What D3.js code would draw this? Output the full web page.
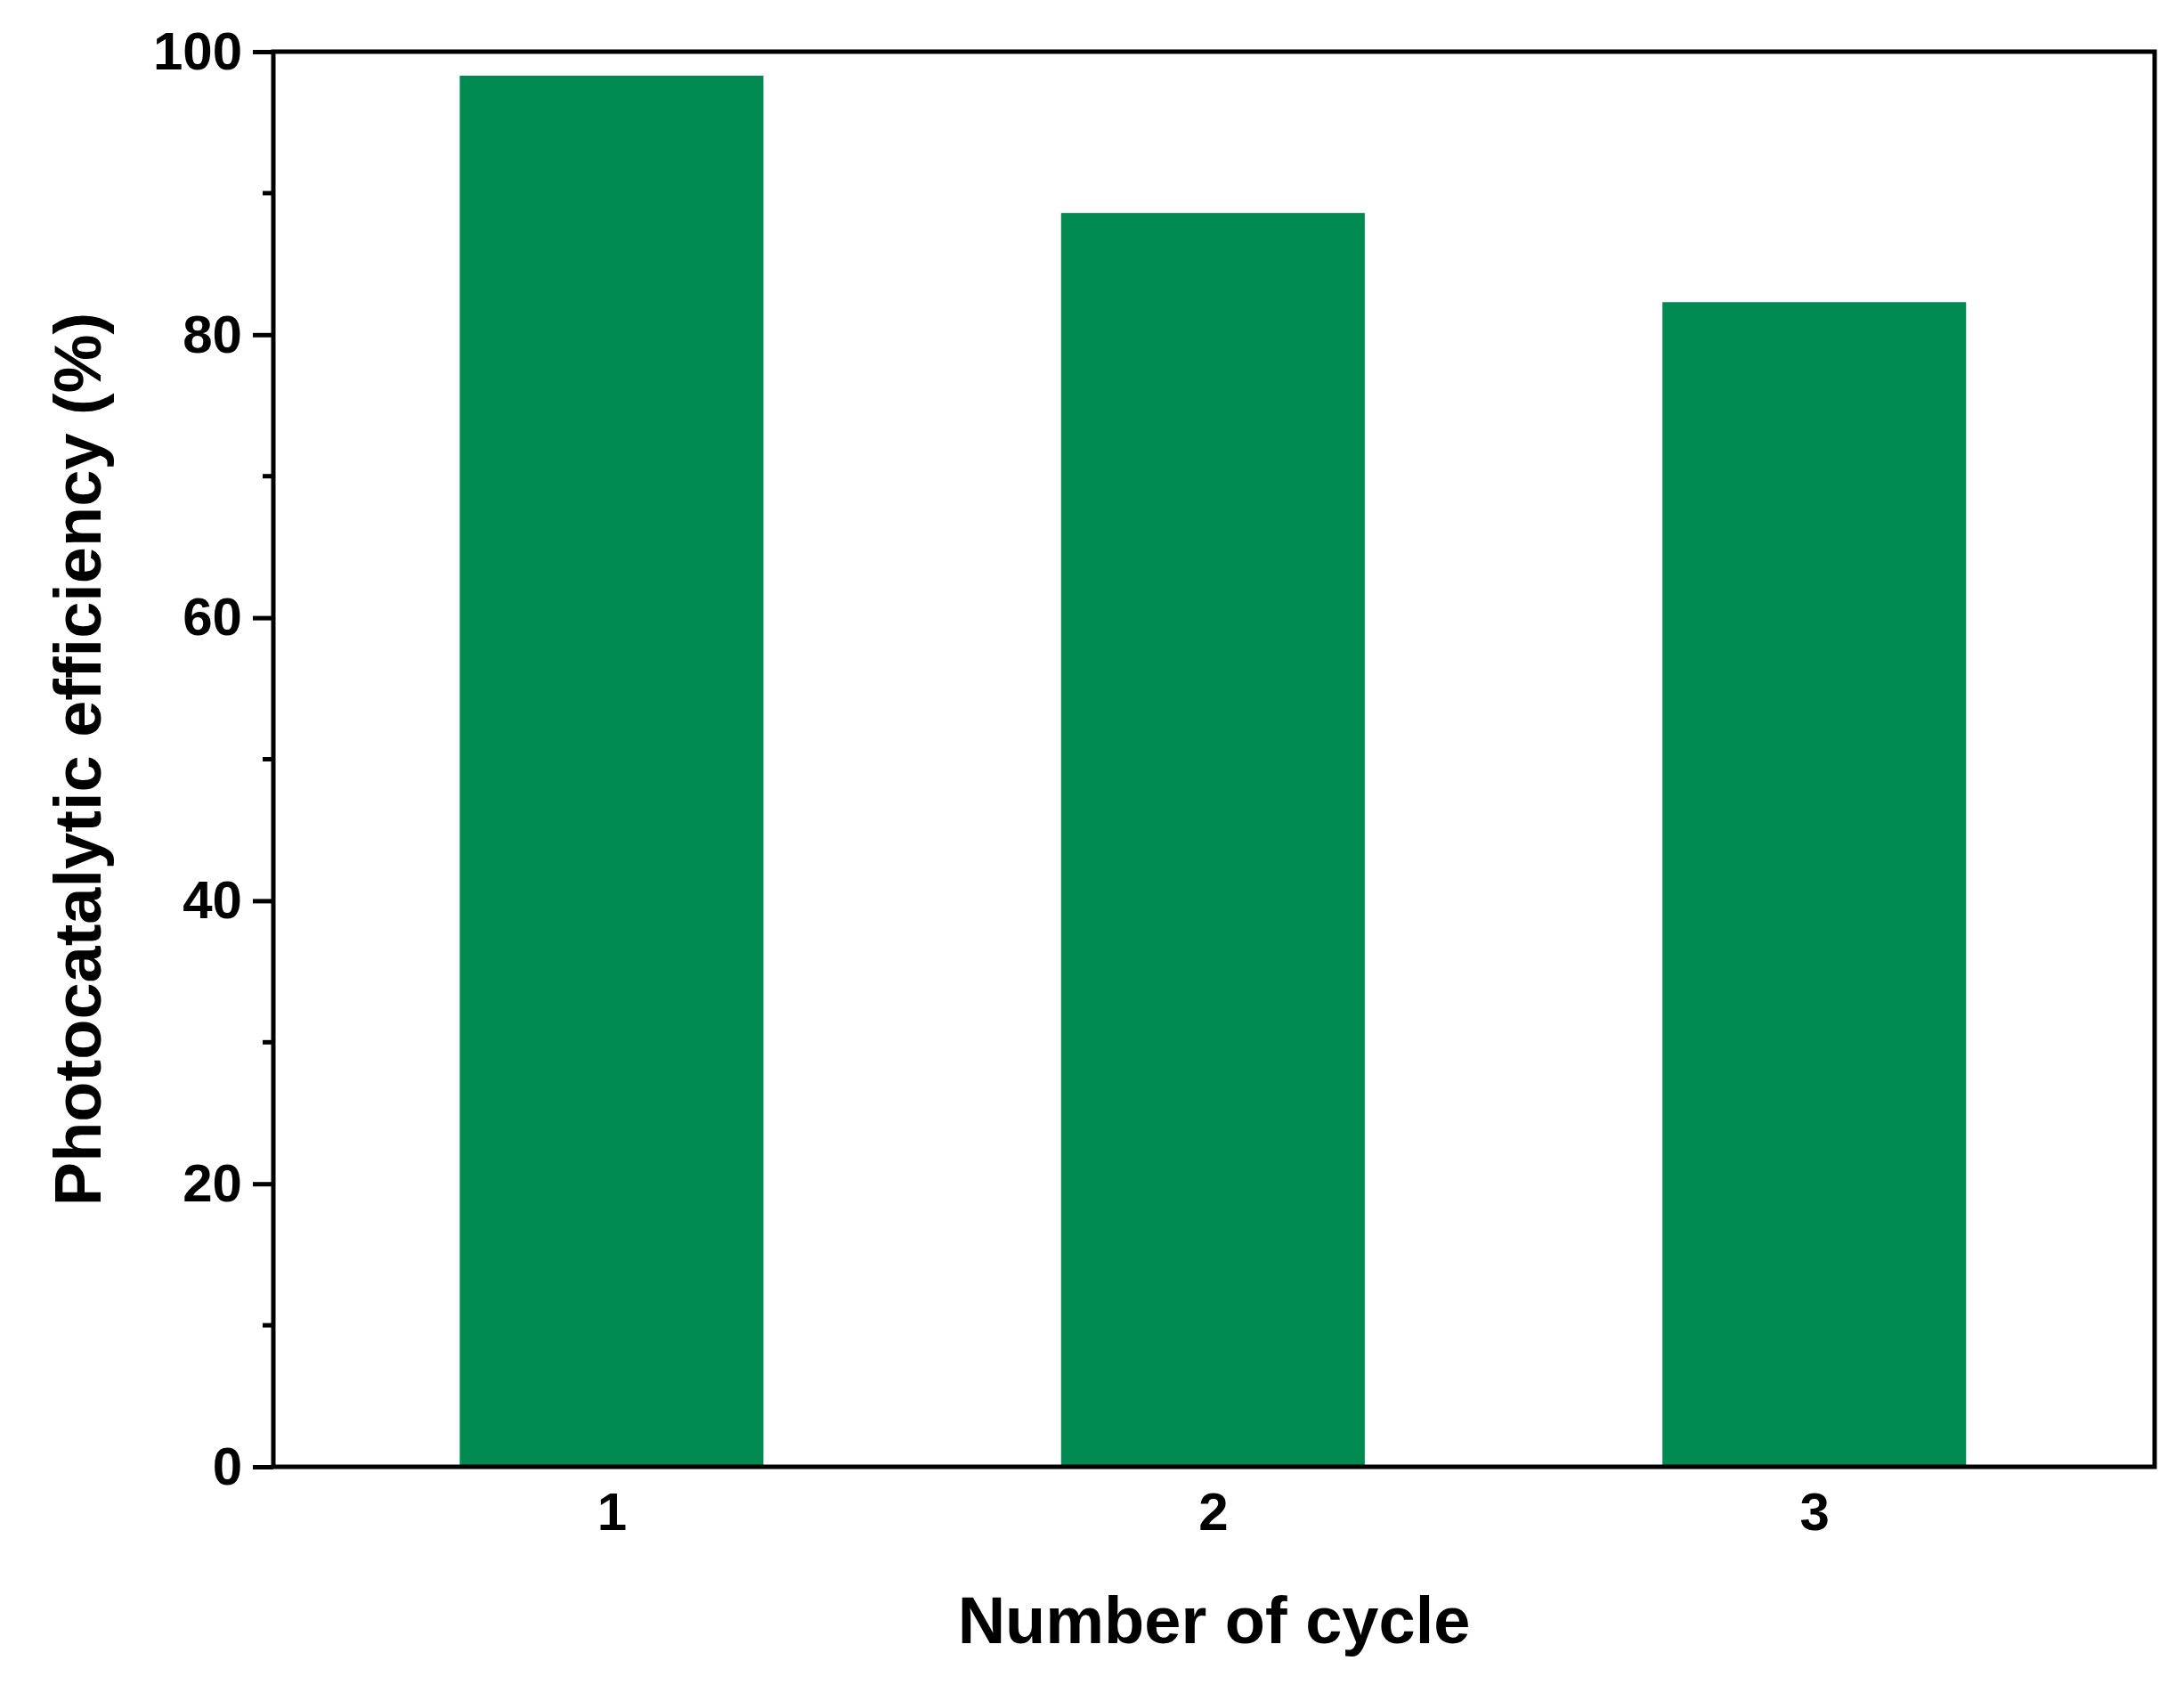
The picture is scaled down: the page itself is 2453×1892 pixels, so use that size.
<!DOCTYPE html><html><head><meta charset="utf-8"><script src="https://d3js.org/d3.v7.min.js"></script>
<style>body{margin:0;background:#fff}</style></head><body><svg id="c" width="2453" height="1892"></svg>
<script>
const cycles=[1,2,3];
const efficiency=[98.3,88.6,82.3];
const yTicks=[0,20,40,60,80,100];
const yMinor=[10,30,50,70,90];
const svg=d3.select("#c");
const L=307,R=2420,T=58,B=1647;
const x=d3.scaleLinear().domain([0.4375,3.566]).range([L,R]);
const y=d3.scaleLinear().domain([0,100]).range([B,T]);
const font="'Liberation Sans',Arial,sans-serif";
svg.selectAll("rect.bar").data(cycles).enter().append("rect")
 .attr("x",d=>x(d-0.2525)).attr("width",d=>x(d+0.2525)-x(d-0.2525))
 .attr("y",(d,i)=>y(efficiency[i])).attr("height",(d,i)=>B-y(efficiency[i]))
 .attr("fill","#008a52");
svg.append("rect").attr("x",L).attr("y",T).attr("width",R-L).attr("height",B-T)
 .attr("fill","none").attr("stroke","#000").attr("stroke-width",5);
const ya=svg.append("g").attr("transform",`translate(${L},0)`)
 .call(d3.axisLeft(y).tickValues(yTicks).tickSize(23).tickPadding(12).tickFormat(d3.format("d")));
ya.select(".domain").remove();
ya.selectAll("line").attr("stroke-width",5);
ya.selectAll("text").attr("font-family",font).attr("font-weight","bold").attr("font-size",60).attr("fill","#000");
svg.append("g").selectAll("line").data(yMinor).enter().append("line")
 .attr("x1",L-12).attr("x2",L).attr("y1",d=>y(d)).attr("y2",d=>y(d)).attr("stroke","#000").attr("stroke-width",5);
const xa=svg.append("g").attr("transform",`translate(0,${B})`)
 .call(d3.axisBottom(x).tickValues(cycles).tickSize(0).tickPadding(28).tickFormat(d3.format("d")));
xa.select(".domain").remove();
xa.selectAll("text").attr("font-family",font).attr("font-weight","bold").attr("font-size",60).attr("fill","#000");
svg.append("text").attr("x",(L+R)/2).attr("y",1845).attr("text-anchor","middle")
 .attr("font-family",font).attr("font-weight","bold").attr("font-size",74).text("Number of cycle");
svg.append("text").attr("transform",`translate(113,${(T+B)/2}) rotate(-90)`).attr("text-anchor","middle")
 .attr("font-family",font).attr("font-weight","bold").attr("font-size",74).text("Photocatalytic efficiency (%)");
</script></body></html>
